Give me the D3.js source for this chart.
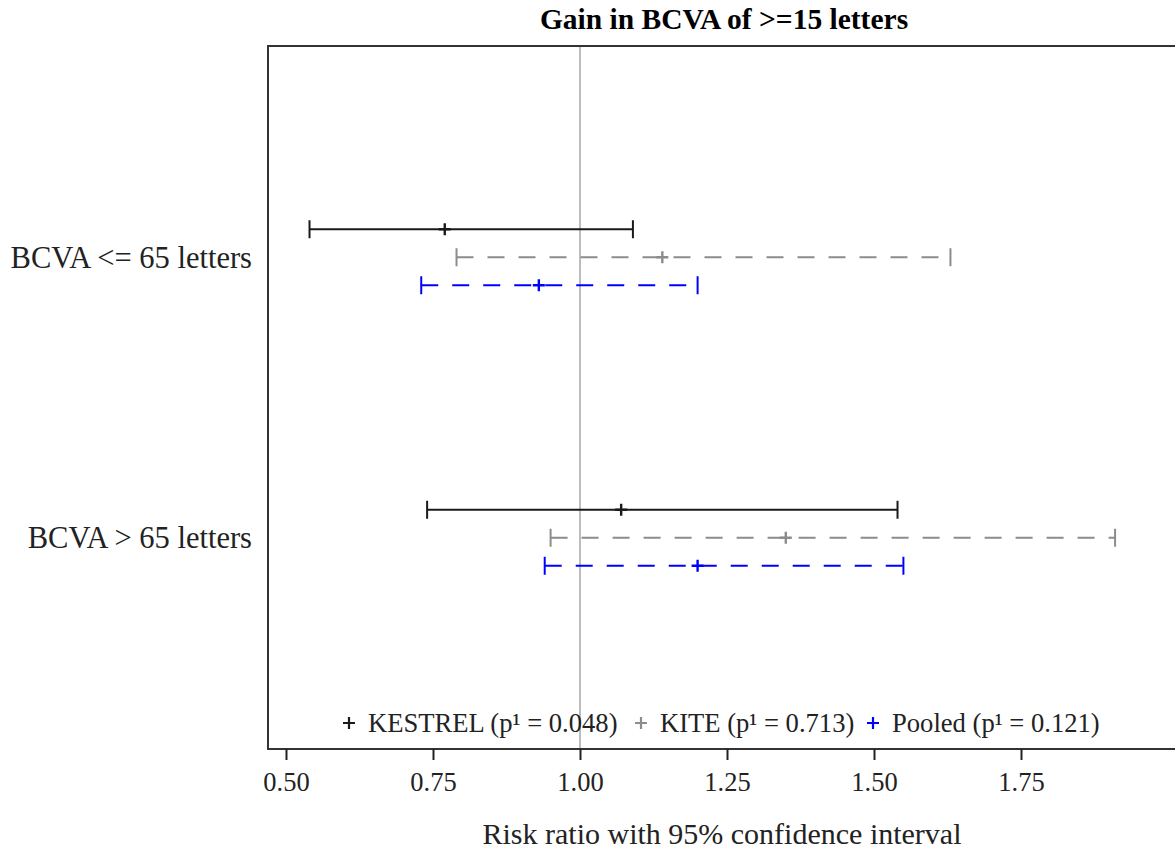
<!DOCTYPE html>
<html>
<head>
<meta charset="utf-8">
<script src="https://cdn.jsdelivr.net/npm/d3@7"></script>
<style>
  html, body { margin: 0; padding: 0; background: #fff; }
  svg { display: block; }
  text { font-family: "Liberation Serif", "Times New Roman", serif; }
</style>
</head>
<body>
<svg id="chart" width="1175" height="851"></svg>
<script>
// Subgroups (rows) and studies (series within each row)
const subgroups = ["BCVA <= 65 letters", "BCVA > 65 letters"];
const studies = ["KESTREL", "KITE", "Pooled"];
const pValues = ["0.048", "0.713", "0.121"];

// Risk ratio estimates and 95% CI, one value per subgroup
const kestrelRR = [0.77, 1.07];
const kestrelLo = [0.54, 0.74];
const kestrelHi = [1.09, 1.54];

const kiteRR = [1.14, 1.35];
const kiteLo = [0.79, 0.95];
const kiteHi = [1.63, 1.91];

const pooledRR = [0.93, 1.20];
const pooledLo = [0.73, 0.94];
const pooledHi = [1.20, 1.55];

const xTicks = [0.50, 0.75, 1.00, 1.25, 1.50, 1.75];
const refValue = 1.0;

const seriesStyle = {
  KESTREL: { color: "#1a1a1a", dash: null },
  KITE:    { color: "#8c8c8c", dash: "17,14" },
  Pooled:  { color: "#0000ff", dash: "17,14" }
};

const rows = [];
const est = [kestrelRR, kiteRR, pooledRR];
const lo = [kestrelLo, kiteLo, pooledLo];
const hi = [kestrelHi, kiteHi, pooledHi];
subgroups.forEach((g, gi) => {
  studies.forEach((s, si) => {
    rows.push({ group: g, study: s, rr: est[si][gi], lo: lo[si][gi], hi: hi[si][gi] });
  });
});

const svg = d3.select("#chart");
const frame = { left: 268, top: 46, right: 1176, bottom: 749 };

const x = d3.scaleLinear().domain([0.4694, 2.0136]).range([frame.left, frame.right]);
const y = d3.scalePoint().domain(subgroups).range([frame.top, frame.bottom]).padding(0.753);
const ySub = d3.scalePoint().domain(studies).range([-28, 28]);

// Title
svg.append("text")
  .attr("x", 724).attr("y", 29)
  .attr("text-anchor", "middle")
  .attr("font-size", 29.5).attr("font-weight", "bold")
  .text("Gain in BCVA of >=15 letters");

// Reference line at RR = 1
svg.append("line")
  .attr("x1", x(refValue)).attr("x2", x(refValue))
  .attr("y1", frame.top).attr("y2", frame.bottom)
  .attr("stroke", "#bdbdbd").attr("stroke-width", 2);

// Plot frame
svg.append("path")
  .attr("d", `M${frame.right},${frame.top}H${frame.left}V${frame.bottom}H${frame.right}`)
  .attr("fill", "none").attr("stroke", "#333").attr("stroke-width", 2);

// X axis
const xAxis = d3.axisBottom(x).tickValues(xTicks).tickFormat(d3.format(".2f"))
  .tickSize(11).tickPadding(12);
const gx = svg.append("g").attr("transform", `translate(0,${frame.bottom})`).call(xAxis);
gx.select(".domain").remove();
gx.selectAll(".tick line").attr("stroke", "#222").attr("stroke-width", 2);
gx.selectAll(".tick text")
  .attr("font-family", "Liberation Serif, serif")
  .attr("font-size", 26.5).attr("fill", "#222");

svg.append("text")
  .attr("x", 722).attr("y", 844)
  .attr("text-anchor", "middle")
  .attr("font-size", 30).attr("fill", "#222")
  .text("Risk ratio with 95% confidence interval");

// Y category labels
svg.selectAll("text.cat")
  .data(subgroups).join("text")
  .attr("class", "cat")
  .attr("x", 252).attr("y", d => y(d))
  .attr("dy", "0.35em")
  .attr("text-anchor", "end")
  .attr("font-size", 30.5).attr("fill", "#222")
  .text(d => d);

// Confidence intervals
const capH = 9;
const markH = 6;
const g = svg.append("g");
rows.forEach(r => {
  const st = seriesStyle[r.study];
  const yy = y(r.group) + ySub(r.study);
  const item = g.append("g");
  item.append("line")
    .attr("x1", x(r.lo)).attr("x2", x(r.hi))
    .attr("y1", yy).attr("y2", yy)
    .attr("stroke", st.color).attr("stroke-width", 2)
    .attr("stroke-dasharray", st.dash);
  [r.lo, r.hi].forEach(v => {
    item.append("line")
      .attr("x1", x(v)).attr("x2", x(v))
      .attr("y1", yy - capH).attr("y2", yy + capH)
      .attr("stroke", st.color).attr("stroke-width", 2);
  });
  item.append("path")
    .attr("d", `M${x(r.rr) - markH},${yy}H${x(r.rr) + markH}M${x(r.rr)},${yy - markH}V${yy + markH}`)
    .attr("stroke", st.color).attr("stroke-width", 2.4).attr("fill", "none");
});

// Legend
const legendX = [349, 641, 873];
const legendY = 723;
studies.forEach((s, i) => {
  const st = seriesStyle[s];
  svg.append("path")
    .attr("d", `M${legendX[i] - 6},${legendY}H${legendX[i] + 6}M${legendX[i]},${legendY - 6}V${legendY + 6}`)
    .attr("stroke", st.color).attr("stroke-width", 2.2).attr("fill", "none");
  svg.append("text")
    .attr("x", legendX[i] + 19).attr("y", legendY)
    .attr("dy", "0.35em")
    .attr("font-size", 26.6).attr("fill", "#222")
    .text(`${s} (p¹ = ${pValues[i]})`);
});
</script>
</body>
</html>
